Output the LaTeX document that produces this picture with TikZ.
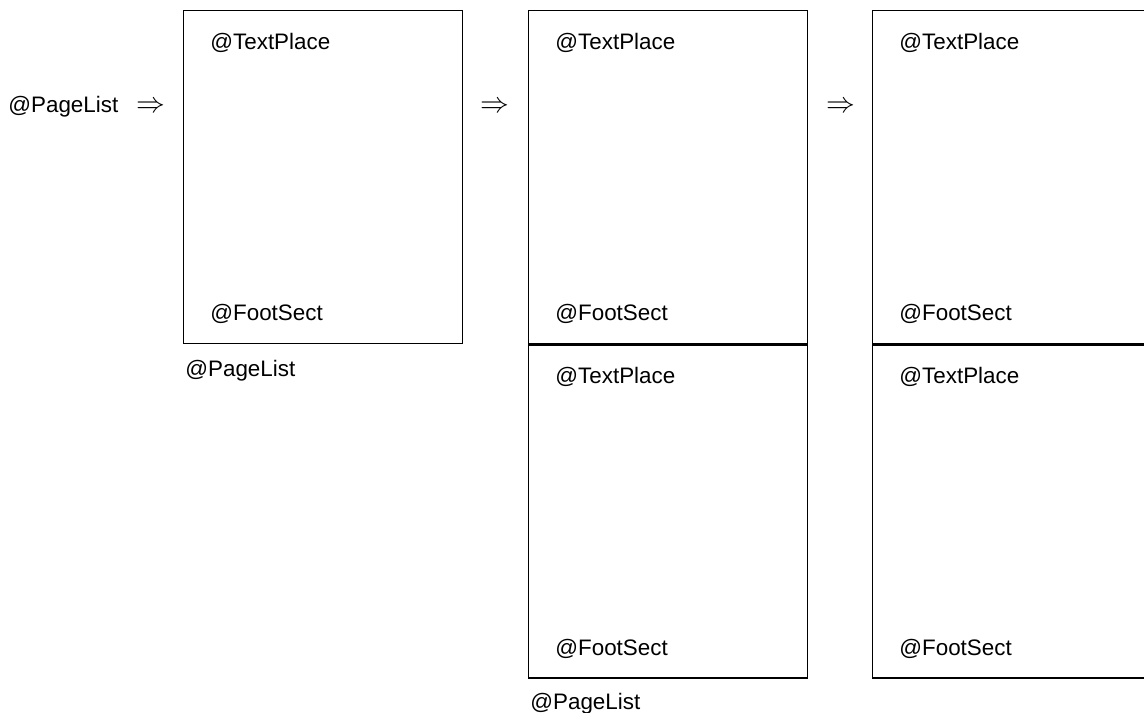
\documentclass[tikz,border=0pt]{standalone}
\usepackage{fontspec}
\setmainfont{Liberation Sans}
\usetikzlibrary{positioning,calc}
\tikzset{
  pg/.style={draw, rectangle, minimum width=139.5pt, minimum height=166.5pt, inner sep=0pt, line width=0.7pt},
  tag/.style={font=\fontsize{11.2}{13}\selectfont, anchor=west, inner sep=0pt},
  imp/.style={font=\fontsize{14.5}{15}\selectfont, inner sep=0pt}
}

\begin{document}
\begin{tikzpicture}[x=0.5pt, y=-0.5pt]
\useasboundingbox (0,0) rectangle (1144,712);
\clip (0,0) rectangle (1144,712);
% pages
\node[pg, anchor=north west] (p1) at (183,10) {};
\node[pg, anchor=north west] (p2a) at (528,10) {};
\node[pg, below=0pt of p2a] (p2b) {};
\node[pg, anchor=north west] (p3a) at (872,10) {};
\node[pg, below=0pt of p3a] (p3b) {};
% texts inside the pages
\foreach \p in {p1,p2a,p2b,p3a,p3b} {
  \node[tag] (\p text) at ($(\p.north west)+(27,33)$) {@TextPlace};
  \node[tag] (\p foot) at ($(\p.south west)+(27,-30)$) {@FootSect};
}
\node[tag] (list0) at (8,107) {@PageList};
\node[tag] (list1) at ($(p1.south west)+(2,26)$) {@PageList};
\node[tag] (list2) at ($(p2b.south west)+(2,25)$) {@PageList};
% steps
\foreach \x [count=\i] in {151,495,841}
  \node[imp] (imp\i) at (\x,107) {$\Rightarrow$};
\end{tikzpicture}
\end{document}
